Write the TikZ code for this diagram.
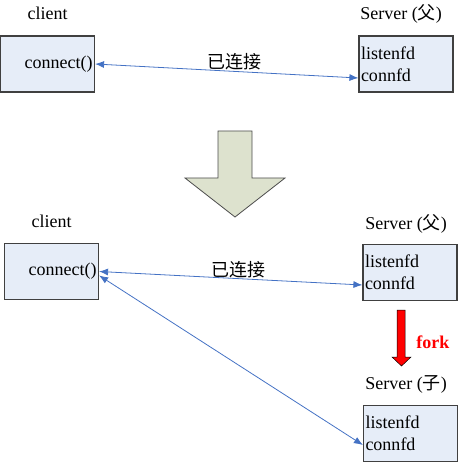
\documentclass[tikz,border=0pt]{standalone}
\usepackage{fontspec}
\setmainfont{Liberation Serif}
\newfontfamily\cjk{Noto Sans CJK SC}
\usetikzlibrary{arrows.meta}
\definecolor{boxfill}{RGB}{230,237,248}
\definecolor{boxline}{RGB}{64,64,64}
\definecolor{linkblue}{RGB}{68,114,196}
\definecolor{bigfill}{RGB}{221,226,206}

\begin{document}
\begin{tikzpicture}[x=1pt, y=-1pt, line width=0.6pt,
  every node/.style={font=\fontsize{18}{22}\selectfont, inner sep=0pt},
  box/.style={draw=boxline, line width=1.2pt, fill=boxfill, minimum height=56pt,
    inner xsep=2pt, text width=90pt},
  link/.style={draw=linkblue, line width=0.8pt,
    {Latex[length=9pt,width=7pt]}-{Latex[length=9pt,width=7pt]}},
  title/.style={anchor=base west}]
  \useasboundingbox (0,0) rectangle (459,462);

  % before fork
  \node[anchor=base] (cli1) at (47.5,20) {client};
  \node[title] (srv1) at (360,20) {Server ({\cjk 父})};
  \node[box, align=right] (client1) at (47.5,64) {connect()};
  \node[box, align=left] (server1) at (406,64) {listenfd\\connfd};
  \draw[link] (client1.east) -- node[pos=0.53, yshift=10pt] {\cjk 已连接}
    ([yshift=-14pt]server1.west);

  % big arrow
  \draw[draw=gray!60!black, fill=bigfill, line width=0.8pt]
    (218,131) -- (252,131) -- (252,178) -- (285,178) -- (235,217)
    -- (185,178) -- (218,178) -- cycle;

  % after fork
  \node[anchor=base] (cli2) at (51.5,227) {client};
  \node[title] (srv2) at (365,229) {Server ({\cjk 父})};
  \node[box, align=right] (client2) at (51.5,271.5) {connect()};
  \node[box, align=left] (server2) at (410,272.5) {listenfd\\connfd};

  \draw[fill=red, line width=0.5pt]
    (397,310) -- (405,310) -- (405,357) -- (411,357) -- (401.5,366)
    -- (392,357) -- (397,357) -- cycle;
  \node[title, text=red, font=\fontsize{18}{22}\selectfont\bfseries] (forklbl) at (416,348) {fork};

  \node[title] (srv3) at (365,389) {Server ({\cjk 子})};
  \node[box, align=left] (server3) at (410.5,433.5) {listenfd\\connfd};

  \draw[link] (client2.east) -- node[pos=0.53, yshift=9pt] {\cjk 已连接}
    ([yshift=-12.5pt]server2.west);
  \draw[link] ([yshift=-4pt]client2.east) -- ([yshift=-11.5pt]server3.west);
\end{tikzpicture}
\end{document}
